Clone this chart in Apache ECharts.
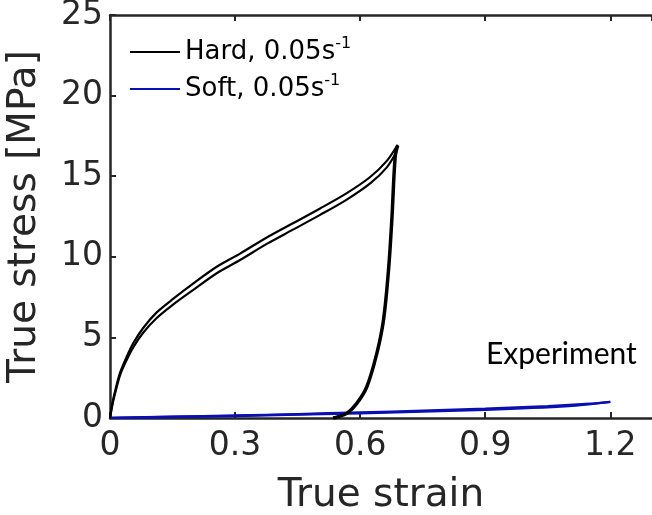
<!DOCTYPE html>
<html><head><meta charset="utf-8">
<script src="https://cdn.jsdelivr.net/npm/echarts@6/dist/echarts.min.js"></script>
<style>html,body{margin:0;padding:0;background:#fff}#c{width:652px;height:515px}</style>
</head><body><div id="c"></div>
<script>
// Data
const xTicks = [0, 0.3, 0.6, 0.9, 1.2];
const yTicks = [0, 5, 10, 15, 20, 25];
const hardLoadA = [[0,0],[0.006,0.95],[0.012,1.65],[0.024,2.8],[0.04,3.8],[0.056,4.65],[0.08,5.6],[0.112,6.55],[0.152,7.4],[0.2,8.35],[0.256,9.38],[0.312,10.2],[0.376,11.2],[0.44,12.1],[0.504,13.0],[0.568,13.95],[0.624,14.95],[0.664,15.95],[0.69,16.95]];
const hardLoadB = [[0,0],[0.006,0.85],[0.012,1.5],[0.024,2.65],[0.04,3.6],[0.056,4.4],[0.08,5.3],[0.112,6.2],[0.152,7.05],[0.2,7.95],[0.256,8.98],[0.312,9.8],[0.376,10.8],[0.44,11.7],[0.504,12.6],[0.568,13.55],[0.624,14.55],[0.664,15.55],[0.687,16.5]];
const hardUnload = [[0.69,16.9],[0.684,16.2],[0.676,12.3],[0.668,9.18],[0.656,6.08],[0.64,4.01],[0.616,1.94],[0.592,0.91],[0.568,0.29],[0.544,0.06],[0.535,0]];
const softLoad = [[0,0],[0.15,0.07],[0.3,0.15],[0.45,0.24],[0.6,0.34],[0.75,0.45],[0.9,0.57],[1.05,0.73],[1.15,0.88],[1.2,1.0]];
const softUnload = [[1.2,1.0],[1.1,0.74],[0.9,0.51],[0.6,0.3],[0.3,0.13],[0,0]];
const legendNames = ['Hard', 'Soft'];
const legendLabels = {Hard: 'Hard, 0.05s', Soft: 'Soft, 0.05s'};

const BLACK = '#000000', BLUE = '#0a0fb4', AX = '#262626';
const chart = echarts.init(document.getElementById('c'), null, {renderer: 'canvas'});
const mkLine = (name, data, color, w, sm) => ({
  name, type: 'line', data, showSymbol: false, symbol: 'none', smooth: sm,
  lineStyle: {color, width: w}, itemStyle: {color}, animation: false
});
chart.setOption({
  animation: false,
  grid: {left: 110, right: 0, top: 15, bottom: 97, containLabel: false, outerBoundsMode: 'none'},
  legend: {
    data: legendNames, orient: 'vertical', left: 125, top: 31, itemWidth: 50, itemHeight: 2,
    icon: 'rect', itemGap: 8, selectedMode: false,
    formatter: n => '{t|' + legendLabels[n] + '}{s|-1}',
    textStyle: {rich: {
      t: {fontFamily: 'DejaVu Sans', fontSize: 26, color: '#000'},
      s: {fontFamily: 'DejaVu Sans', fontSize: 16, color: '#000', padding: [0, 0, 16, 0]}
    }}
  },
  xAxis: [{
    type: 'value', min: 0, max: 1.3, interval: 0.3,
    name: 'True strain', nameLocation: 'middle', nameGap: 58,
    nameTextStyle: {fontFamily: 'DejaVu Sans', fontSize: 39, color: AX},
    axisLine: {show: true, onZero: false, lineStyle: {color: AX, width: 2.5}},
    axisTick: {show: true, inside: true, length: 6, lineStyle: {color: AX, width: 2}},
    axisLabel: {fontFamily: 'DejaVu Sans', fontSize: 33, color: AX, margin: 12, showMaxLabel: false,
      formatter: v => (xTicks.some(t => Math.abs(t - v) < 1e-6) ? String(Math.round(v * 10) / 10) : '')},
    splitLine: {show: false}
  }, {
    type: 'value', position: 'top', min: 0, max: 1.3, interval: 0.3,
    axisLine: {show: true, onZero: false, lineStyle: {color: AX, width: 2.5}},
    axisTick: {show: true, inside: true, length: 6, lineStyle: {color: AX, width: 2}},
    axisLabel: {show: false}, splitLine: {show: false}
  }],
  yAxis: [{
    type: 'value', min: 0, max: 25, interval: 5,
    name: 'True stress [MPa]', nameLocation: 'middle', nameGap: 66,
    nameTextStyle: {fontFamily: 'DejaVu Sans', fontSize: 39, color: AX},
    axisLine: {show: true, onZero: false, lineStyle: {color: AX, width: 2.5}},
    axisTick: {show: true, inside: true, length: 6, lineStyle: {color: AX, width: 2}},
    axisLabel: {fontFamily: 'DejaVu Sans', fontSize: 33, color: AX, margin: 7,
      formatter: v => (yTicks.includes(v) ? String(v) : '')},
    splitLine: {show: false}
  }],
  series: [
    mkLine('Soft', softLoad, BLUE, 2.5, 0.3),
    mkLine('Soft', softUnload, BLUE, 2.5, 0.3),
    mkLine('Hard', hardLoadA, BLACK, 2.2, 0.3),
    mkLine('Hard', hardLoadB, BLACK, 2.2, 0.3),
    mkLine('Hard', hardUnload, BLACK, 3.5, 0.35)
  ],
  graphic: [{
    type: 'text', left: 486, top: 339,
    style: {text: 'Experiment', fontFamily: 'Lato', fontSize: 30, fill: '#000'}
  }]
});
</script></body></html>
